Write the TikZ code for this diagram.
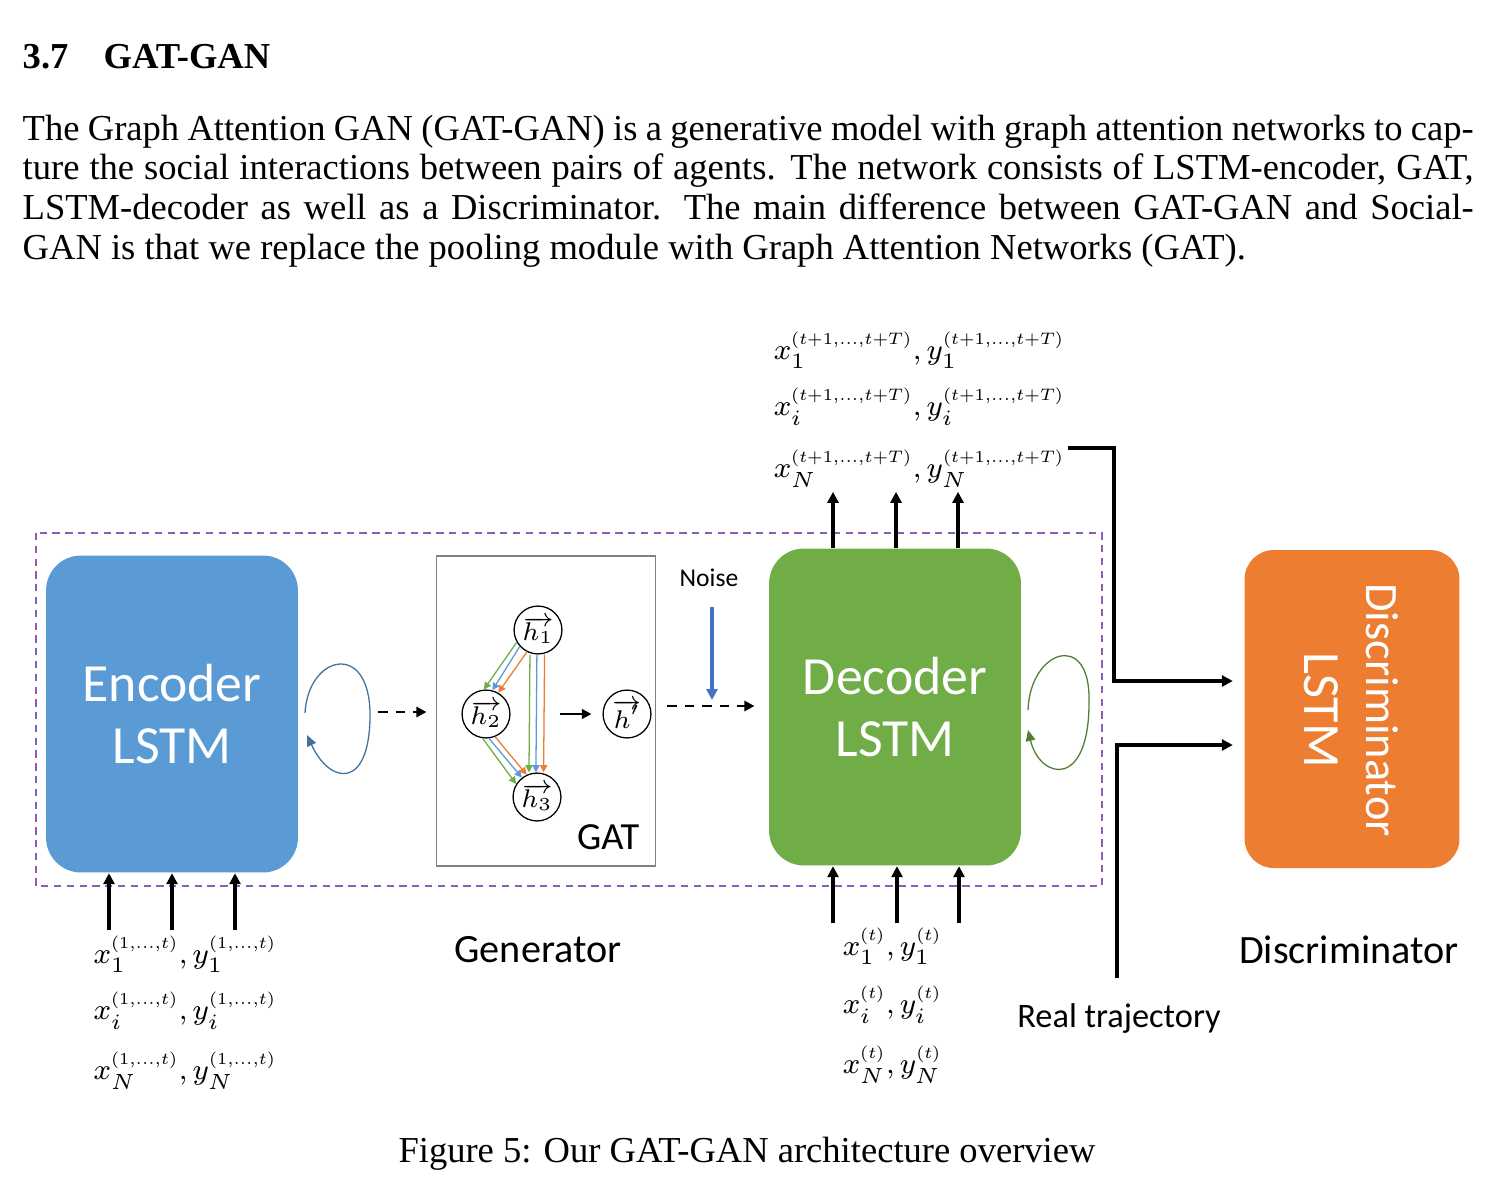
\documentclass[tikz,border=0pt]{standalone}
\usepackage{graphicx}
\usepackage{fontspec}
\setmainfont{Liberation Serif}
\newfontfamily\carlito{Carlito}
\usetikzlibrary{arrows.meta,calc}

\definecolor{encblue}{HTML}{5B9BD5}
\definecolor{decgreen}{HTML}{70AD47}
\definecolor{discorange}{HTML}{ED7D31}
\definecolor{noiseblue}{HTML}{4472C4}
\definecolor{genpurple}{HTML}{8E5BB5}
\definecolor{loopblue}{HTML}{41719C}
\definecolor{loopgreen}{HTML}{507E32}

% compact superscript for the trajectory labels
\newcommand{\tsup}[1]{\scalebox{0.76}{$\scriptstyle #1$}}

\begin{document}
\begin{tikzpicture}[
    x=0.2736pt, y=-0.2736pt,
    block/.style={rectangle, rounded corners=9.5pt, minimum width=68.9pt, minimum height=86.7pt, text=white, font=\carlito\fontsize{14.7}{17.2}\selectfont, align=center},
    hnode/.style={circle, draw, line width=0.35pt, minimum size=13.1pt, inner sep=0pt, font=\scriptsize},
    tag/.style={font=\carlito\fontsize{11}{13}\selectfont},
    traj/.style={font=\fontsize{8}{9}\selectfont, inner sep=0pt, anchor=base west},
    arrow/.style={-{Triangle[length=3pt,width=3pt]}, line width=1.1pt},
    dasharrow/.style={-{Triangle[length=2.8pt,width=2.8pt]}, line width=0.8pt, dash pattern=on 2.6pt off 2.2pt},
    attn/.style={-{Triangle[length=2pt,width=2pt]}, line width=0.35pt},
    selfloop/.style={-{Triangle[length=3pt,width=2.6pt]}, line width=0.35pt}
]
\useasboundingbox (0,0) rectangle (1500,1200);

% === TEXT ===
\node[anchor=base west, inner sep=0pt, font=\bfseries] (secnum) at (22,68) {3.7};
\node[anchor=base west, inner sep=0pt, font=\bfseries] (sectitle) at (103,68) {GAT-GAN};
\node[anchor=base west, inner sep=0pt, text width=397pt, align=justify, font=\fontsize{10}{10.86}\selectfont] (para) at (22,140) {%
\hyphenpenalty=10000 The Graph Attention GAN (GAT-GAN) is a generative model with graph attention networks to cap-\linebreak ture the social interactions between pairs of agents. The network consists of LSTM-encoder, GAT,\linebreak LSTM-decoder as well as a Discriminator. The main difference between GAT-GAN and Social-\linebreak GAN is that we replace the pooling module with Graph Attention Networks (GAT).};
\node[anchor=base, inner sep=0pt] (caption) at (747,1162) {Figure 5: Our GAT-GAN architecture overview};

% === GENERATOR ===
\draw[genpurple, line width=0.35pt, dash pattern=on 2pt off 1.5pt] (36,533) rectangle (1102,886);

\node[block, fill=encblue] (enc) at (172,714) {Encoder\\LSTM};
\node[draw=gray, line width=0.5pt, minimum width=59.9pt, minimum height=84.8pt] (gat) at (546,711) {};
\node[tag, anchor=base east, inner sep=0pt, font=\carlito\fontsize{10.5}{12}\selectfont] (gattxt) at (640,849) {GAT};
\node[block, fill=decgreen] (dec) at (895,707) {Decoder\\LSTM};

% GAT graph
\node[hnode] (h1) at (538,630) {$\overrightarrow{h_1}$};
\node[hnode] (h2) at (486,714) {$\overrightarrow{h_2}$};
\node[hnode] (h3) at (537,797) {$\overrightarrow{h_3}$};
\node[hnode] (hp) at (627,714) {$\overrightarrow{h'}$};

\draw[attn, decgreen] (h1.210) -- (h2.95);
\draw[attn, encblue] (h1.222) -- (h2.75);
\draw[attn, discorange] (h1.243) -- (h2.60);
\draw[attn, decgreen] ([xshift=-2.2pt]h1.south) -- ([xshift=-2.2pt]h3.north);
\draw[attn, encblue] ([xshift=-0.3pt]h1.south) -- ([xshift=-0.3pt]h3.north);
\draw[attn, discorange] ([xshift=1.8pt]h1.south) -- ([xshift=1.8pt]h3.north);
\draw[attn, decgreen] (h2.262) -- (h3.148);
\draw[attn, encblue] (h2.277) -- (h3.128);
\draw[attn, discorange] (h2.292) -- (h3.115);
\draw[-{Triangle[length=2.6pt,width=2.6pt]}, line width=0.7pt, shorten <=13.5pt, shorten >=3pt] (h2) -- (hp);

% recurrent loops
\coordinate (encloopA) at (305,713);
\coordinate (encloopB) at (307,735);
\draw[selfloop, loopblue] (encloopA) .. controls (308,655) and (370,640) .. (370,715) .. controls (370,790) and (330,785) .. (encloopB);
\coordinate (decloopA) at (1028,710);
\coordinate (decloopB) at (1028,730);
\draw[selfloop, loopgreen] (decloopA) .. controls (1030,650) and (1090,630) .. (1089,700) .. controls (1090,790) and (1040,780) .. (decloopB);

% flow through generator
\coordinate (encout) at (378,712);
\draw[dasharrow, shorten >=2.5pt] (encout) -- (encout -| gat.west);
\coordinate (gatout) at (667,706);
\coordinate (mix) at (712,700);
\draw[dasharrow, shorten >=3.8pt] (gatout) -- (gatout -| dec.west);
\node[tag, font=\carlito\fontsize{7}{8}\selectfont] (noise) at (709,578) {Noise};
\draw[-{Triangle[length=3pt,width=3pt]}, noiseblue, line width=1pt, shorten <=2pt] (noise.south -| mix) -- (mix);

% inputs and outputs
\foreach \dx in {-63,0,63}
    \draw[arrow] ($(enc.south)+(\dx,57)$) -- ($(enc.south)+(\dx,0)$);
\foreach \dx in {-62,2,64}
    \draw[arrow] ($(dec.south)+(\dx,57)$) -- ($(dec.south)+(\dx,0)$);
\foreach \dx in {-62,1,63}
    \draw[arrow] ($(dec.north)+(\dx,0)$) -- ($(dec.north)+(\dx,-56)$);

\foreach \s/\y in {1/963, i/1019, N/1079}
    \node[traj] (in\s) at (93,\y) {$x_{\s}^{\tsup{(1,\dots,t)}},y_{\s}^{\tsup{(1,\dots,t)}}$};
\foreach \s/\y in {1/955, i/1013, N/1073}
    \node[traj] (obs\s) at (842,\y) {$x_{\s}^{\tsup{(t)}},y_{\s}^{\tsup{(t)}}$};
\foreach \s/\y in {1/359, i/415, N/477}
    \node[traj] (out\s) at (773,\y) {$x_{\s}^{\tsup{(t+1,\dots,t+T)}},y_{\s}^{\tsup{(t+1,\dots,t+T)}}$};

% === DISCRIMINATOR ===
\node[block, fill=discorange, rounded corners=8pt, minimum width=58.8pt, minimum height=87pt] (disc) at (1352,709) {};
\node[rotate=-90, text=white, align=center, font=\carlito\fontsize{14.3}{17}\selectfont] (disctxt) at (1351,710) {{\fontsize{12.7}{17}\selectfont Discriminator}\\LSTM};

\coordinate (fake) at (1068,448);
\coordinate (real) at (1117,978);
\draw[arrow] (fake) -- ($(fake)+(46,0)$) |- ($(disc.west)+(-11,-28)$);
\draw[arrow] (real) |- ($(disc.west)+(-11,36)$);

\node[tag] (genlab) at (538,950) {Generator};
\node[tag] (disclab) at (1349,950) {Discriminator};
\node[tag, font=\carlito\fontsize{9.4}{11}\selectfont] (reallab) at (1119,1018) {Real trajectory};

\end{tikzpicture}
\end{document}
